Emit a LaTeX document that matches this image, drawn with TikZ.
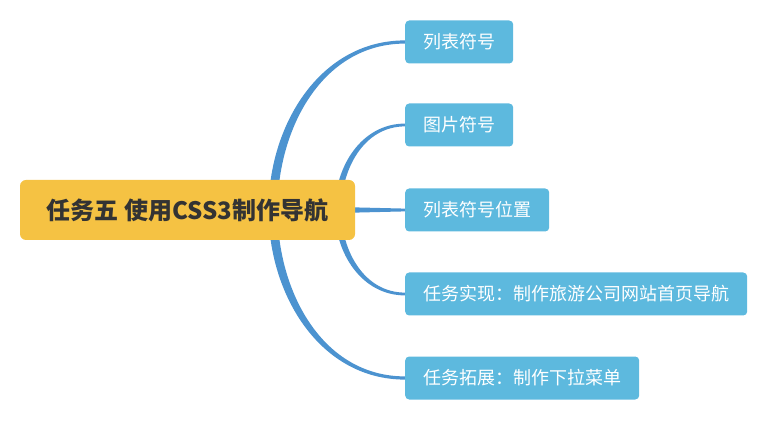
\documentclass[tikz,border=0pt]{standalone}
\usepackage{fontspec}
\setmainfont{Noto Sans CJK SC}
\usetikzlibrary{backgrounds}
\definecolor{rootyellow}{HTML}{F5C243}
\definecolor{childblue}{HTML}{5DB9DE}
\definecolor{branchblue}{HTML}{4C93D0}
\definecolor{roottext}{HTML}{333333}
\tikzset{
  rootbox/.style={fill=rootyellow, rounded corners=6pt, minimum width=335pt,
    minimum height=60pt, text=roottext, font=\fontsize{24}{27}\selectfont\bfseries},
  childbox/.style={fill=childblue, rounded corners=4pt, minimum height=43pt,
    inner xsep=18pt, text=white, font=\fontsize{18}{20}\selectfont, anchor=west},
  branch/.style={fill=branchblue}
}
\begin{document}
\begin{tikzpicture}[x=1pt,y=1pt]
\useasboundingbox (0,0) rectangle (767,420);

\node (task) at (187.5,210) [rootbox] {任务五 使用CSS3制作导航};
\node (list) at (405,378) [childbox] {列表符号};
\node (image) at (405,295) [childbox] {图片符号};
\node (pos) at (405,210) [childbox] {列表符号位置};
\node (impl) at (405,126) [childbox] {任务实现：制作旅游公司网站首页导航};
\node (ext) at (405,42) [childbox] {任务拓展：制作下拉菜单};

\coordinate (outer) at (273,210);
\coordinate (inner) at (338,210);

\begin{scope}[on background layer]
\fill[branch] ([xshift=-4.5pt]outer) to[out=90,in=180] ([yshift=1.6pt]list.west)
  -- ([yshift=-1.6pt]list.west) to[out=180,in=90] ([xshift=4.5pt]outer) -- cycle;
\fill[branch] ([xshift=-3.2pt]inner) to[out=90,in=180] ([yshift=1.4pt]image.west)
  -- ([yshift=-1.4pt]image.west) to[out=180,in=90] ([xshift=3.2pt]inner) -- cycle;
\fill[branch] ([yshift=2.6pt]task.east) -- ([yshift=1.4pt]pos.west)
  -- ([yshift=-1.4pt]pos.west) -- ([yshift=-2.6pt]task.east) -- cycle;
\fill[branch] ([xshift=-3.2pt]inner) to[out=-90,in=180] ([yshift=-1.4pt]impl.west)
  -- ([yshift=1.4pt]impl.west) to[out=180,in=-90] ([xshift=3.2pt]inner) -- cycle;
\fill[branch] ([xshift=-4.5pt]outer) to[out=-90,in=180] ([yshift=-1.6pt]ext.west)
  -- ([yshift=1.6pt]ext.west) to[out=180,in=-90] ([xshift=4.5pt]outer) -- cycle;
\end{scope}
\end{tikzpicture}
\end{document}
